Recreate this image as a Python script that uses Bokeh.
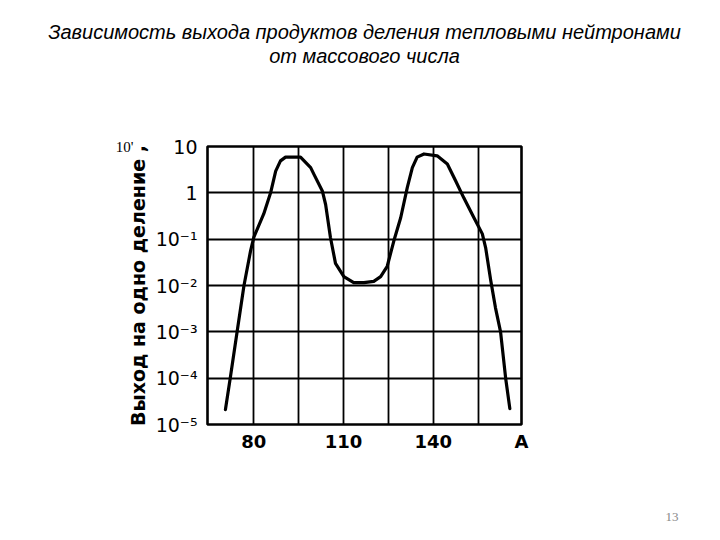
from bokeh.plotting import figure
from bokeh.models import Range1d, FixedTicker, CustomJSTickFormatter, Title, LogAxis
from bokeh.embed import file_html
from bokeh.resources import INLINE

title_lines = ["Зависимость выхода продуктов деления тепловыми нейтронами",
               "от массового числа"]
y_axis_title = "Выход на одно деление ,"
unit_note = "10'"
page_number = "13"

mass_number = [70.5, 72.2, 74.4, 76.7, 78.9, 80.0, 83.3, 85.6, 87.3, 88.9, 90.6,
               95.6, 99.0, 100.1, 102.9, 104.0, 105.6, 107.3, 110.1, 113.4, 116.8,
               120.1, 122.4, 124.6, 126.8, 129.1, 131.3, 133.0, 134.6, 136.9, 141.3,
               144.7, 147.5, 150.2, 153.6, 156.4, 157.5, 159.2, 160.8, 162.5, 164.2,
               165.6]
yield_percent = [2.1e-5, 1.1e-4, 1.0e-3, 1.0e-2, 5.6e-2, 0.11, 0.35, 1.0, 2.95, 4.9, 5.9,
                 5.9, 3.5, 2.5, 1.1, 0.56, 0.11, 0.030, 0.0155, 0.0115, 0.0115,
                 0.0123, 0.0155, 0.026, 0.091, 0.29, 1.3, 3.5, 5.9, 6.9, 6.3,
                 4.2, 1.8, 0.78, 0.29, 0.13, 0.066, 0.013, 0.0033, 1.0e-3, 1.0e-4,
                 2.2e-5]

y_ticks = [1e-5, 1e-4, 1e-3, 1e-2, 1e-1, 1, 10]
y_tick_labels = ["10⁻⁵", "10⁻⁴", "10⁻³", "10⁻²", "10⁻¹", "1", "10"]
x_ticks = [80, 95, 110, 125, 140, 155, 169.5]
x_tick_labels = ["80", "", "110", "", "140", "", "A"]

p = figure(width=720, height=540,
           x_range=Range1d(64.5, 169.5), y_range=Range1d(1e-5, 10),
           y_axis_type="log", output_backend="svg", toolbar_location=None,
           min_border_left=207, min_border_right=199,
           min_border_top=146, min_border_bottom=116)

p.line(mass_number, yield_percent, line_color="black", line_width=3.2,
       line_join="round", line_cap="round")

p.outline_line_color = "black"
p.outline_line_width = 2.6
p.background_fill_color = "white"
p.border_fill_color = "white"

p.xaxis.ticker = FixedTicker(ticks=x_ticks)
p.yaxis.ticker = FixedTicker(ticks=y_ticks)
p.xgrid.ticker = FixedTicker(ticks=x_ticks)
p.ygrid.ticker = FixedTicker(ticks=y_ticks)
for g in (p.xgrid, p.ygrid):
    g.grid_line_color = "black"
    g.grid_line_width = 1.8
    g.grid_line_alpha = 1.0

p.xaxis.formatter = CustomJSTickFormatter(
    args=dict(tvals=x_ticks, tlabels=x_tick_labels),
    code="const i = tvals.findIndex(t => Math.abs(t - tick) < 1e-6); return i >= 0 ? tlabels[i] : '';")
p.yaxis.formatter = CustomJSTickFormatter(
    args=dict(tvals=y_ticks, tlabels=y_tick_labels),
    code="const i = tvals.findIndex(t => Math.abs(Math.log10(t) - Math.log10(tick)) < 1e-6); return i >= 0 ? tlabels[i] : '';")

for ax in (p.xaxis[0], p.yaxis[0]):
    ax.axis_line_color = None
    ax.major_tick_line_color = None
    ax.minor_tick_line_color = None
    ax.major_tick_out = 0
    ax.major_tick_in = 0

p.xaxis.major_label_text_font = "DejaVu Sans"
p.xaxis.major_label_text_font_style = "bold"
p.xaxis.major_label_text_font_size = "18px"
p.xaxis.major_label_text_color = "black"
p.xaxis.major_label_standoff = 6

p.yaxis.major_label_text_font = "DejaVu Sans"
p.yaxis.major_label_text_font_size = "19px"
p.yaxis.major_label_text_color = "black"
p.yaxis.major_label_standoff = 10

p.yaxis.axis_label = y_axis_title
p.yaxis.axis_label_text_font = "DejaVu Sans"
p.yaxis.axis_label_text_font_style = "bold"
p.yaxis.axis_label_text_font_size = "19px"
p.yaxis.axis_label_text_color = "black"
p.yaxis.axis_label_standoff = 4

# small horizontal unit note at the top left, carried by an extra empty axis
note_axis = LogAxis(ticker=FixedTicker(ticks=[]), axis_line_color=None,
                    major_tick_line_color=None, minor_tick_line_color=None,
                    major_label_text_font_size="0px",
                    axis_label=unit_note, axis_label_orientation="horizontal",
                    axis_label_align="end", axis_label_standoff=-10,
                    axis_label_text_baseline="top",
                    axis_label_text_font="Liberation Serif",
                    axis_label_text_font_style="normal",
                    axis_label_text_font_size="15px", axis_label_text_color="black")
p.add_layout(note_axis, "left")

# title lines (spacer keeps them at the top of the page)
spacer_top = Title(text=" ", text_font_size="1px", standoff=77)
t2 = Title(text=title_lines[1], align="center", text_font="Liberation Sans",
           text_font_style="italic", text_font_size="20px", text_color="black",
           standoff=0)
t1 = Title(text=title_lines[0], align="center", text_font="Liberation Sans",
           text_font_style="italic", text_font_size="20px", text_color="black",
           standoff=0)
p.add_layout(spacer_top, "above")
p.add_layout(t2, "above")
p.add_layout(t1, "above")

spacer_bottom = Title(text=" ", text_font_size="1px", standoff=53)
page = Title(text=page_number, align="right", offset=-157,
             text_font="Liberation Serif", text_font_style="normal",
             text_font_size="13px", text_color="#888888", standoff=0)
p.add_layout(spacer_bottom, "below")
p.add_layout(page, "below")

open("out.html", "w").write(file_html(p, INLINE))
